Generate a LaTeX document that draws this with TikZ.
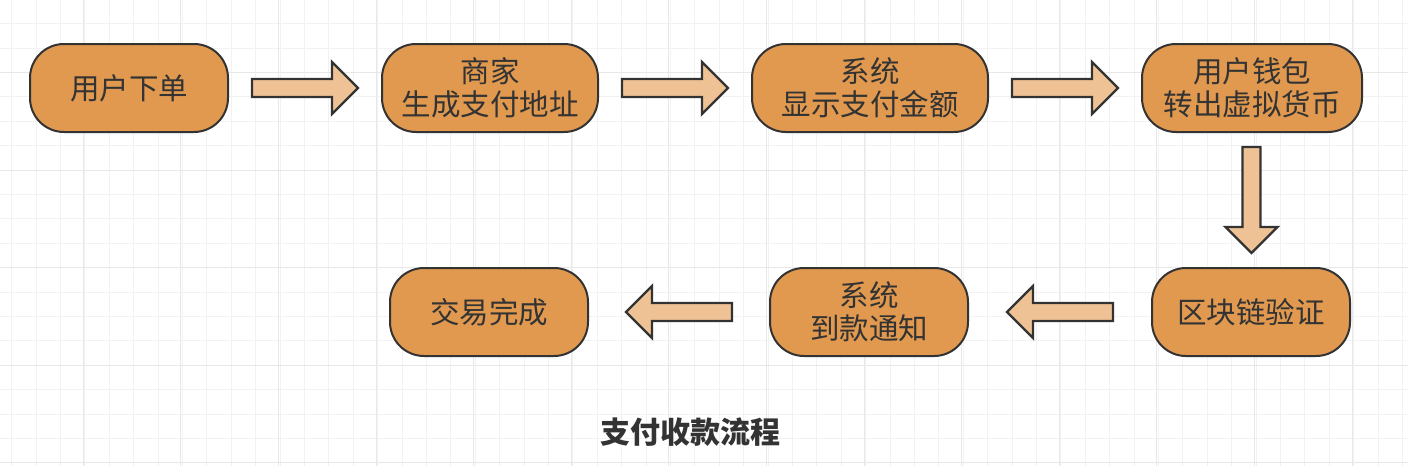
\documentclass[tikz,border=0pt]{standalone}
\usepackage{fontspec}
\setmainfont{Noto Sans CJK SC}
\usetikzlibrary{calc}
\definecolor{nodefill}{HTML}{E0994F}
\definecolor{arrowfill}{HTML}{EEC295}
\definecolor{ink}{HTML}{333333}
\definecolor{gridlight}{HTML}{F2F2F2}
\definecolor{gridheavy}{HTML}{E8E8E8}
\tikzset{
  stepbox/.style={draw=ink, line width=2pt, fill=nodefill, rounded corners=34pt,
    minimum height=88pt, text=ink, align=center,
    font=\fontsize{29.5pt}{33pt}\selectfont, inner sep=0pt},
  blockarrow/.style={draw=ink, line width=2.4pt, fill=arrowfill, line join=miter},
  fatarrow/.pic={\draw[blockarrow] (-53,-9) -- (27,-9) -- (27,-26) -- (53,0) -- (27,26) -- (27,9) -- (-53,9) -- cycle;}
}
\begin{document}
\begin{tikzpicture}[x=1pt,y=-1pt]
\useasboundingbox (0,0) rectangle (1408,466);
\fill[white] (0,0) rectangle (1408,466);
% grid
\foreach \k in {0,...,57}{
  \draw[gridlight, line width=1pt] ({11.7+24.4*\k},0) -- ({11.7+24.4*\k},466);
}
\foreach \k in {0,...,19}{
  \draw[gridlight, line width=1pt] (0,{-0.8+24.4*\k}) -- (1408,{-0.8+24.4*\k});
}
\foreach \k in {0,...,13}{
  \draw[gridheavy, line width=1pt] ({83.3+97.6*\k},0) -- ({83.3+97.6*\k},466);
}
\foreach \k in {0,...,4}{
  \draw[gridheavy, line width=1pt] (0,{72.4+97.6*\k}) -- (1408,{72.4+97.6*\k});
}
% nodes
\node[stepbox, minimum width=198pt] (n1) at (129,88) {用户下单};
\node[stepbox, minimum width=216pt] (n2) at (490,88) {商家\\生成支付地址};
\node[stepbox, minimum width=236pt] (n3) at (870,88) {系统\\显示支付金额};
\node[stepbox, minimum width=220pt] (n4) at (1252,88) {用户钱包\\转出虚拟货币};
\node[stepbox, minimum width=198pt] (n5) at (1251,312) {区块链验证};
\node[stepbox, minimum width=198pt] (n6) at (869,312) {系统\\到款通知};
\node[stepbox, minimum width=198pt] (n7) at (489,312) {交易完成};
% block arrows
\pic at ($(n1.east)!0.5!(n2.west)$) {fatarrow};
\pic at ($(n2.east)!0.5!(n3.west)$) {fatarrow};
\pic at ($(n3.east)!0.5!(n4.west)$) {fatarrow};
\pic[rotate=-90] at ($(n4.south)!0.5!(n5.north)$) {fatarrow};
\pic[rotate=180] at ($(n5.west)!0.5!(n6.east)$) {fatarrow};
\pic[rotate=180] at ($(n6.west)!0.5!(n7.east)$) {fatarrow};
% title
\node[text=ink, font=\fontsize{30pt}{34pt}\selectfont\bfseries] (title) at (690,432) {支付收款流程};
\end{tikzpicture}
\end{document}
